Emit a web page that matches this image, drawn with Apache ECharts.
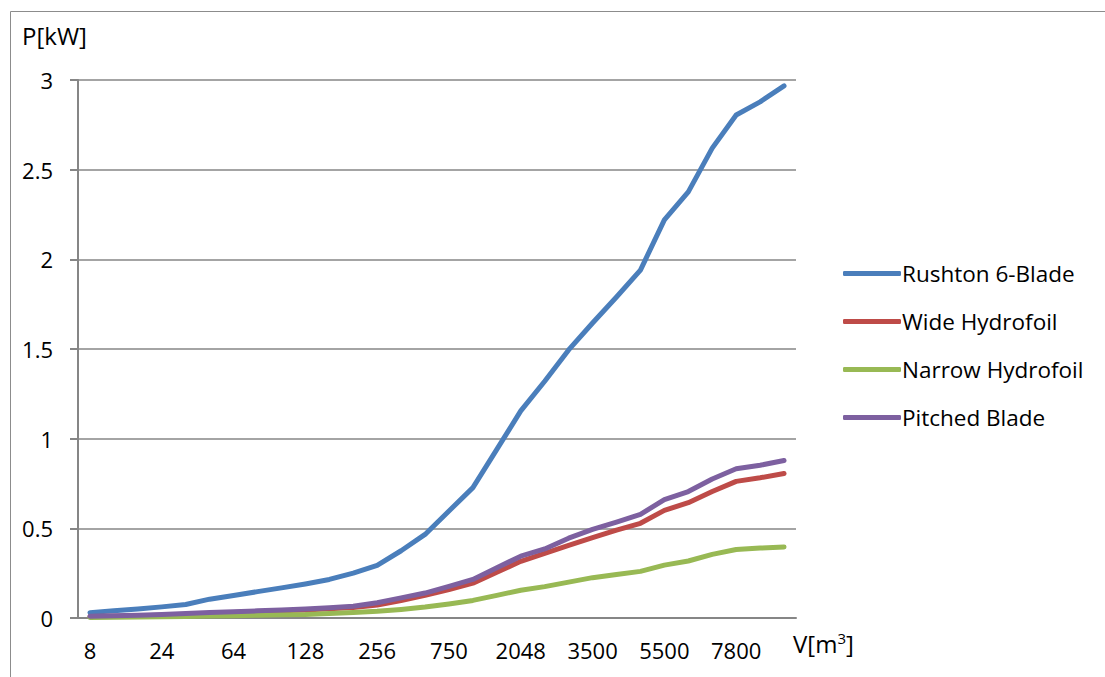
<!DOCTYPE html>
<html>
<head>
<meta charset="utf-8">
<script src="https://cdn.jsdelivr.net/npm/echarts@6/dist/echarts.min.js"></script>
<style>
html,body{margin:0;padding:0;background:#fff;}
#chart{width:1105px;height:677px;}
</style>
</head>
<body>
<div id="chart"></div>
<script>
// Categories (only every third one is labelled in the reference)
const volumes = ['8','12','16','24','32','48','64','80','100','128','160','200','256','400','500','750','1000','1500','2048','2500','3000','3500','4000','5000','5500','6000','7000','7800','8500','9000'];
const rushton = [0.03,0.04,0.05,0.062,0.075,0.105,0.125,0.147,0.168,0.19,0.215,0.25,0.293,0.375,0.466,0.597,0.727,0.94,1.155,1.32,1.495,1.645,1.79,1.94,2.22,2.376,2.62,2.805,2.878,2.967];
const wideHydrofoil = [0.008,0.01,0.012,0.016,0.02,0.025,0.03,0.035,0.04,0.045,0.051,0.058,0.072,0.098,0.126,0.158,0.194,0.255,0.316,0.36,0.405,0.448,0.49,0.528,0.6,0.643,0.705,0.762,0.782,0.806];
const narrowHydrofoil = [0.003,0.004,0.005,0.007,0.009,0.011,0.013,0.015,0.018,0.02,0.025,0.03,0.037,0.048,0.061,0.078,0.098,0.126,0.155,0.175,0.2,0.225,0.243,0.26,0.295,0.318,0.355,0.382,0.39,0.396];
const pitchedBlade = [0.01,0.012,0.015,0.02,0.025,0.03,0.035,0.04,0.045,0.05,0.057,0.066,0.085,0.112,0.139,0.176,0.215,0.28,0.345,0.385,0.445,0.494,0.535,0.578,0.66,0.705,0.775,0.832,0.852,0.878];
const seriesNames = ['Rushton 6-Blade','Wide Hydrofoil','Narrow Hydrofoil','Pitched Blade'];
const seriesColors = ['#4A7EBB','#BE4B48','#98B954','#7D60A0'];
const yTicks = {min:0, max:3, interval:0.5};

const font = '"Open Sans", "Noto Sans", sans-serif';
const chart = echarts.init(document.getElementById('chart'), null, {renderer:'svg'});
const data = [rushton, wideHydrofoil, narrowHydrofoil, pitchedBlade];
chart.setOption({
  animation:false,
  backgroundColor:'#fff',
  textStyle:{fontFamily:font, color:'#000'},
  grid:{left:78, right:309, top:80, bottom:59, containLabel:false},
  legend:{
    orient:'vertical', left:838, top:257,
    itemWidth:58, itemHeight:5, itemGap:25, icon:'roundRect',
    textStyle:{fontFamily:font, fontSize:22.5, color:'#000', lineHeight:23, padding:[0,0,0,-4]},
    data:seriesNames
  },
  xAxis:{
    type:'category', data:volumes, boundaryGap:true,
    axisLine:{lineStyle:{color:'#868686', width:2}},
    axisTick:{show:false},
    axisLabel:{interval:2, margin:21, fontSize:22, color:'#000', fontFamily:font},
    splitLine:{show:false}
  },
  yAxis:{
    type:'value', min:yTicks.min, max:yTicks.max, interval:yTicks.interval,
    axisLine:{show:true, lineStyle:{color:'#868686', width:2}},
    axisTick:{show:true, length:8, lineStyle:{color:'#868686', width:2}},
    axisLabel:{margin:25, fontSize:22, color:'#000', fontFamily:font},
    splitLine:{show:true, lineStyle:{color:'#868686', width:1.5}}
  },
  series: seriesNames.map((n,i)=>({
    name:n, type:'line', data:data[i], symbol:'none',
    lineStyle:{width:5, color:seriesColors[i], cap:'round', join:'round'},
    itemStyle:{color:seriesColors[i]}
  })),
  graphic:[
    {type:'rect', shape:{x:10.5, y:11.5, width:1200, height:800}, style:{fill:'none', stroke:'#8c8c8c', lineWidth:1}, silent:true},
    {type:'text', left:22, top:23, style:{text:'P[kW]', font:'24px '+font, fill:'#000'}},
    {type:'text', left:793, top:630, style:{
      text:'V[m{sup|3}]', font:'24px '+font, fill:'#000',
      rich:{sup:{fontSize:15, verticalAlign:'top', padding:[0,0,12,0], fontFamily:font}}
    }}
  ]
});
</script>
</body>
</html>
